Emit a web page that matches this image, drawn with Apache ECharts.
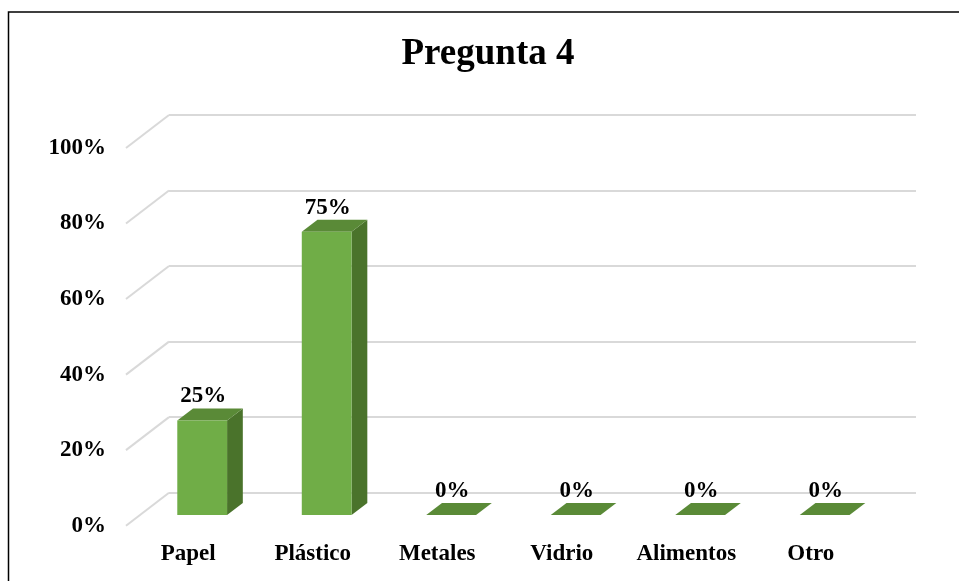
<!DOCTYPE html>
<html>
<head>
<meta charset="utf-8">
<script src="https://cdn.jsdelivr.net/npm/echarts@6/dist/echarts.min.js"></script>
<style>
  html, body { margin: 0; padding: 0; background: #fff; }
  #chart { width: 959px; height: 581px; }
</style>
</head>
<body>
<div id="chart"></div>
<script>
// Survey answers for question 4 (percent of respondents)
const categories = ['Papel', 'Plástico', 'Metales', 'Vidrio', 'Alimentos', 'Otro'];
const values = [25, 75, 0, 0, 0, 0];
const gridTicks = [0, 20, 40, 60, 80, 100];

// Oblique projection used for the 3D look: full floor depth offset
const DEPTH_DX = -43;
const DEPTH_DY = 33;
// Bar placement inside the floor depth (0 = back wall, 1 = front edge)
const BAR_BACK = 0.31;
const BAR_FRONT = 0.676;
const BAR_WIDTH_RATIO = 0.4;

const FONT = '"Liberation Serif", "Times New Roman", serif';
const COL_FRONT = '#70AD47';
const COL_TOP = '#5A8A37';
const COL_SIDE = '#4A732B';

const chart = echarts.init(document.getElementById('chart'), null, { renderer: 'canvas' });

function renderFloorDiagonal(params, api) {
  const v = api.value(1);
  const p = api.coord([0, v]);
  const band = api.size([1, 0])[0];
  const x0 = p[0] - band / 2;
  return {
    type: 'line',
    shape: { x1: x0, y1: p[1], x2: x0 + DEPTH_DX, y2: p[1] + DEPTH_DY },
    style: { stroke: '#D9D9D9', lineWidth: 2 },
    silent: true
  };
}

function renderBar(params, api) {
  const idx = api.value(0);
  const v = api.value(1);
  const top = api.coord([idx, v]);
  const base = api.coord([idx, 0]);
  const band = api.size([1, 0])[0];
  const w = band * BAR_WIDTH_RATIO;
  const cx = top[0];

  const fx = cx + DEPTH_DX * BAR_FRONT, fy = DEPTH_DY * BAR_FRONT;
  const bx = cx + DEPTH_DX * BAR_BACK, by = DEPTH_DY * BAR_BACK;

  const fl = fx - w / 2, fr = fx + w / 2;
  const bl = bx - w / 2, br = bx + w / 2;
  const fTop = top[1] + fy, fBot = base[1] + fy;
  const bTop = top[1] + by, bBot = base[1] + by;

  const children = [];
  children.push({
    type: 'polygon',
    shape: { points: [[fr, fTop], [br, bTop], [br, bBot], [fr, fBot]] },
    style: { fill: COL_SIDE }
  });
  children.push({
    type: 'polygon',
    shape: { points: [[fl, fTop], [fr, fTop], [br, bTop], [bl, bTop]] },
    style: { fill: COL_TOP }
  });
  if (fBot - fTop > 0.5) {
    children.push({
      type: 'rect',
      shape: { x: fl, y: fTop, width: w, height: fBot - fTop },
      style: { fill: COL_FRONT }
    });
  }
  children.push({
    type: 'text',
    style: {
      x: fx + 1,
      y: bTop - 12,
      text: v + '%',
      align: 'center',
      verticalAlign: 'middle',
      font: 'bold 23px ' + FONT,
      fill: '#000'
    }
  });
  return { type: 'group', children: children };
}

const option = {
  backgroundColor: '#fff',
  animation: false,
  graphic: [
    {
      type: 'rect',
      shape: { x: 8.5, y: 12, width: 1000, height: 1000 },
      style: { fill: 'none', stroke: '#000', lineWidth: 1.5 },
      silent: true,
      z: 100
    },
    {
      type: 'text',
      style: {
        x: 488,
        y: 54,
        text: 'Pregunta 4',
        align: 'center',
        verticalAlign: 'middle',
        font: 'bold 37px ' + FONT,
        fill: '#000'
      },
      silent: true
    }
  ],
  grid: [
    // back wall
    { left: 169, right: 43, top: 115, bottom: 88.3 },
    // front edge of the floor (carries the axis labels)
    { left: 126, right: 86, top: 148, bottom: 55.3 }
  ],
  xAxis: [
    {
      gridIndex: 0, type: 'category', data: categories, boundaryGap: true,
      axisLine: { show: false }, axisTick: { show: false }, axisLabel: { show: false }
    },
    {
      gridIndex: 1, type: 'category', data: categories, boundaryGap: true,
      axisLine: { show: false }, axisTick: { show: false },
      axisLabel: {
        interval: 0, hideOverlap: false, margin: 17,
        color: '#000', fontFamily: FONT, fontWeight: 'bold', fontSize: 23
      }
    }
  ],
  yAxis: [
    {
      gridIndex: 0, type: 'value', min: 0, max: 100, interval: 20,
      axisLine: { show: false }, axisTick: { show: false }, axisLabel: { show: false },
      splitLine: { lineStyle: { color: '#D9D9D9', width: 2 } }
    },
    {
      gridIndex: 1, type: 'value', min: 0, max: 100, interval: 20,
      axisLine: { show: false }, axisTick: { show: false }, splitLine: { show: false },
      axisLabel: { margin: 20, formatter: '{value}%', color: '#000', fontFamily: FONT, fontWeight: 'bold', fontSize: 23 }
    }
  ],
  series: [
    {
      type: 'custom',
      xAxisIndex: 0, yAxisIndex: 0,
      renderItem: renderFloorDiagonal,
      data: gridTicks.map(function (t) { return [0, t]; }),
      z: 1,
      silent: true
    },
    {
      type: 'custom',
      xAxisIndex: 0, yAxisIndex: 0,
      renderItem: renderBar,
      data: values.map(function (v, i) { return [i, v]; }),
      z: 2,
      clip: false
    }
  ]
};

chart.setOption(option);
</script>
</body>
</html>
